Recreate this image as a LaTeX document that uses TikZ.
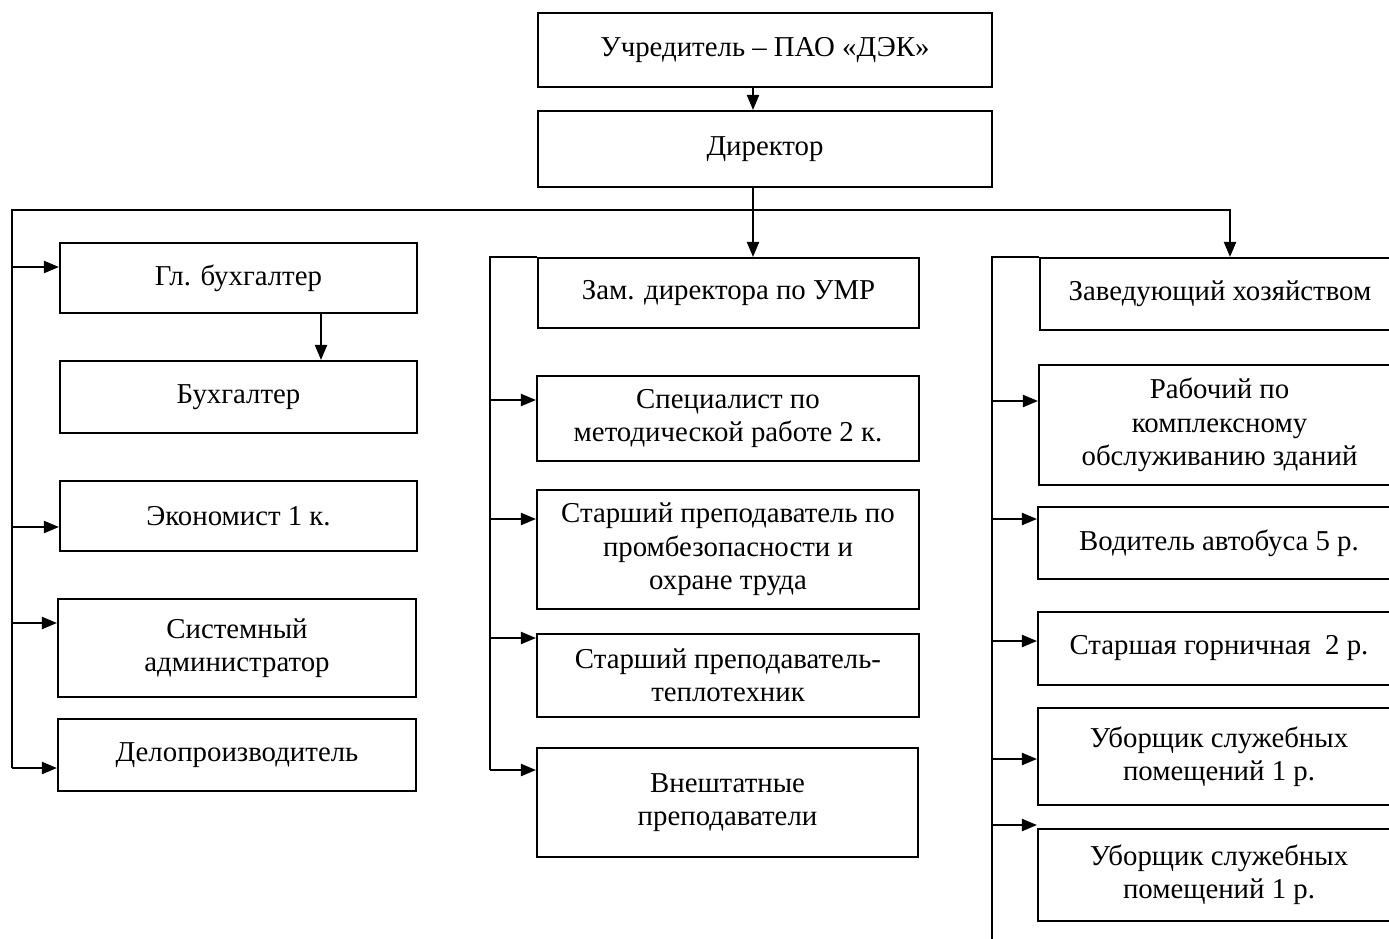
\documentclass[tikz,border=0pt]{standalone}
\usepackage{fontspec}
\setmainfont{Liberation Serif}
\usetikzlibrary{arrows.meta}

\begin{document}
\begin{tikzpicture}[line width=1.2pt, arr/.style={-{Triangle[length=3mm,width=2.4mm]}}]

        \useasboundingbox (0,0) rectangle (27.78,-18.76);
        \clip (0,0) rectangle (27.78,-18.76);

        \begin{scope}[every node/.style={rectangle,draw,align=center,font=\fontsize{16.4}{19}\selectfont}]
          \node[minimum width=9.08cm, minimum height=1.48cm] (uch)  at (15.3,-1.0) {Учредитель – ПАО «ДЭК»};
          \node[minimum width=9.08cm, minimum height=1.52cm] (dir)  at (15.3,-2.98) {Директор};

          \node[minimum width=7.14cm, minimum height=1.40cm] (glb)  at (4.77,-5.56) {Гл. бухгалтер};
          \node[minimum width=7.14cm, minimum height=1.44cm] (buh)  at (4.77,-7.94) {Бухгалтер};
          \node[minimum width=7.14cm, minimum height=1.40cm] (eco)  at (4.77,-10.32) {Экономист 1 к.};
          \node[minimum width=7.16cm, minimum height=1.96cm] (sys)  at (4.74,-12.96) {Системный\\администратор};
          \node[minimum width=7.16cm, minimum height=1.44cm] (del)  at (4.74,-15.10) {Делопроизводитель};

          \node[minimum width=7.62cm, minimum height=1.40cm] (zam)  at (14.57,-5.86) {Зам. директора по УМР};
          \node[minimum width=7.64cm, minimum height=1.70cm] (spec) at (14.56,-8.37) {Специалист по\\методической работе 2 к.};
          \node[minimum width=7.64cm, minimum height=2.38cm] (prom) at (14.56,-10.99) {Старший преподаватель по\\промбезопасности и\\охране труда};
          \node[minimum width=7.64cm, minimum height=1.66cm] (tepl) at (14.56,-13.51) {Старший преподаватель-\\теплотехник};
          \node[minimum width=7.62cm, minimum height=2.18cm] (vne)  at (14.55,-16.05) {Внештатные\\преподаватели};

          \node[minimum width=7.20cm, minimum height=1.44cm] (zav)  at (24.40,-5.88) {Заведующий хозяйством};
          \node[minimum width=7.22cm, minimum height=2.40cm] (rab)  at (24.39,-8.50) {Рабочий по\\комплексному\\обслуживанию зданий};
          \node[minimum width=7.24cm, minimum height=1.44cm] (vod)  at (24.38,-10.86) {Водитель автобуса 5 р.};
          \node[minimum width=7.24cm, minimum height=1.46cm] (gor)  at (24.38,-12.97) {Старшая горничная~~2 р.};
          \node[minimum width=7.24cm, minimum height=1.94cm] (ub1)  at (24.38,-15.13) {Уборщик служебных\\помещений 1 р.};
          \node[minimum width=7.24cm, minimum height=1.84cm] (ub2)  at (24.38,-17.50) {Уборщик служебных\\помещений 1 р.};
        \end{scope}

        % bus lines
        \coordinate (bl) at (0.24,-15.36);
        \coordinate (br) at (24.6,-4.2);
        \coordinate (mb) at (9.8,-15.4);
        \coordinate (rb) at (19.84,-18.8);

        \draw[arr] ([xshift=-2.4mm]uch.south) -- ([xshift=-2.4mm]dir.north);
        \draw[arr] ([xshift=-2.4mm]dir.south) -- ([xshift=-2.4mm]dir.south |- zam.north);
        \draw[arr] (bl) |- (br) -- (br |- zav.north);
        \draw[arr] ([xshift=16.5mm]glb.south) -- ([xshift=16.5mm]buh.north);
        \draw (zam.north west) -| (mb);
        \draw (zav.north west) -| (rb);

        % arrows into the boxes
        \foreach \n/\s in {glb/2.2,eco/-2.2,sys/5,del/-2.6}{
          \coordinate (t) at ([yshift=\s mm]\n.west);
          \draw[arr] (bl |- t) -- (t);
        }
        \foreach \n/\s in {spec/3.7,prom/6.1,tepl/7.5,vne/6.5}{
          \coordinate (t) at ([yshift=\s mm]\n.west);
          \draw[arr] (mb |- t) -- (t);
        }
        \foreach \n/\s in {rab/4.8,vod/4.8,gor/1.5,ub1/-0.5,ub2/10}{
          \coordinate (t) at ([yshift=\s mm]\n.west);
          \draw[arr] (rb |- t) -- (t);
        }

      \end{tikzpicture}
\end{document}
